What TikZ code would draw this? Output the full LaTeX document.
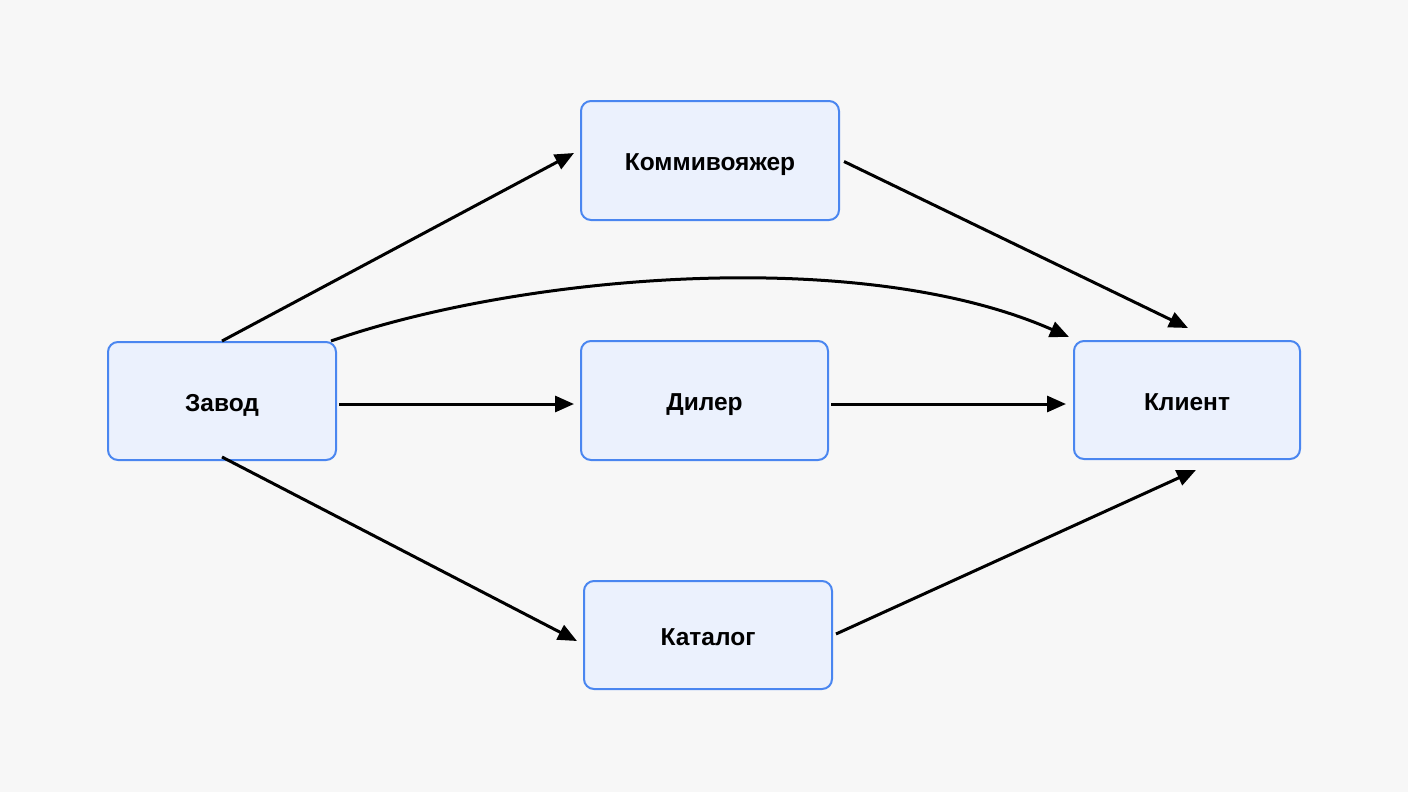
\documentclass[tikz,border=0pt]{standalone}
\usepackage{fontspec}
\setmainfont{Liberation Sans}
\usetikzlibrary{arrows.meta}
\definecolor{bg}{HTML}{F7F7F7}
\definecolor{boxfill}{HTML}{EBF1FD}
\definecolor{boxline}{HTML}{4A86F0}
\tikzset{
  box/.style={draw=boxline, fill=boxfill, line width=2pt, rounded corners=10pt,
    inner sep=0pt, align=center, text depth=0pt, text height=20pt,
    font=\fontsize{24.5}{28}\selectfont\bfseries},
  conn/.style={line width=3pt, -{Triangle[length=19pt,width=16pt]}}
}
\begin{document}
\begin{tikzpicture}[x=1pt,y=-1pt]
\fill[bg] (0,0) rectangle (1408,792);
\useasboundingbox (0,0) rectangle (1408,792);
\node[box, minimum width=258pt, minimum height=119pt] (komm) at (710,160.5) {Коммивояжер};
\node[box, minimum width=228pt, minimum height=118pt] (zavod) at (222,401) {Завод};
\node[box, minimum width=247pt, minimum height=119pt] (dealer) at (704.5,400.5) {Дилер};
\node[box, minimum width=226pt, minimum height=118pt] (client) at (1187,400) {Клиент};
\node[box, minimum width=248pt, minimum height=108pt] (catalog) at (708,635) {Каталог};
\draw[conn] (zavod.north) -- ([shift={(-6,-7.5)}]komm.west);
\draw[conn] ([shift={(4,1)}]komm.east) -- ([shift={(1,-12)}]client.north);
\draw[conn] ([xshift=-6]zavod.north east) .. controls (520,275) and (860,245) .. ([shift={(-4,-3)}]client.north west);
\draw[conn] ([shift={(2,3)}]zavod.east) -- ([shift={(-6,3.5)}]dealer.west);
\draw[conn] ([shift={(2,3.5)}]dealer.east) -- ([shift={(-7,4)}]client.west);
\draw[conn] ([yshift=4]zavod.south) -- ([shift={(-6,6)}]catalog.west);
\draw[conn] ([shift={(3,-1)}]catalog.east) -- ([shift={(9,10)}]client.south);
\end{tikzpicture}
\end{document}
